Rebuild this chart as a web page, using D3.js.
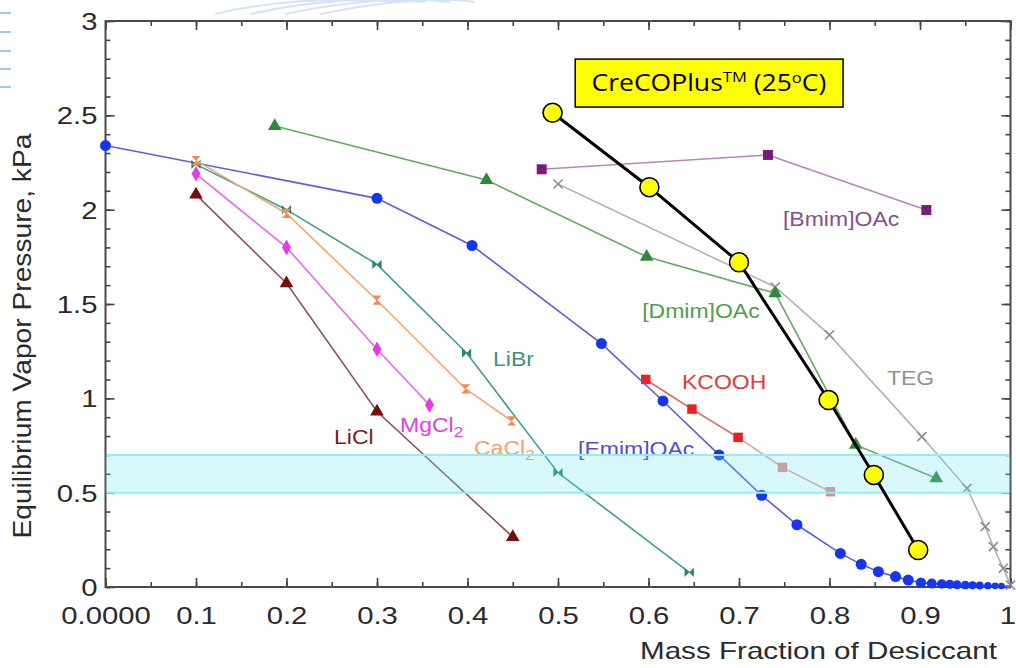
<!DOCTYPE html>
<html><head><meta charset="utf-8">
<script src="https://cdn.jsdelivr.net/npm/d3@7"></script>
<style>html,body{margin:0;padding:0;background:#fff;} svg{display:block;}</style>
</head><body>
<svg id="chart" width="1016" height="668"></svg>
<script>
// ---------------- DATA ----------------
const xTickValues = [0, 0.1, 0.2, 0.3, 0.4, 0.5, 0.6, 0.7, 0.8, 0.9, 1];
const xTickLabels = ["0.0000", "0.1", "0.2", "0.3", "0.4", "0.5", "0.6", "0.7", "0.8", "0.9", "1"];
const yTickValues = [0, 0.5, 1, 1.5, 2, 2.5, 3];
const yTickLabels = ["0", "0.5", "1", "1.5", "2", "2.5", "3"];

const liclX = [0.1, 0.2, 0.3, 0.45];
const liclY = [2.08, 1.61, 0.93, 0.265];
const mgcl2X = [0.1, 0.2, 0.3, 0.358];
const mgcl2Y = [2.19, 1.80, 1.26, 0.965];
const cacl2X = [0.1, 0.2, 0.3, 0.398, 0.449];
const cacl2Y = [2.26, 1.98, 1.52, 1.05, 0.88];
const libr2X = [0.1, 0.2, 0.3, 0.399, 0.50, 0.645];
const libr2Y = [2.24, 2.00, 1.71, 1.24, 0.606, 0.078];
const emimX = [0, 0.3, 0.405, 0.548, 0.616, 0.678, 0.725, 0.764, 0.812, 0.835, 0.854, 0.873, 0.887, 0.901,
               0.913, 0.924, 0.933, 0.941, 0.950, 0.958, 0.966, 0.975, 0.983, 0.990];
const emimY = [2.34, 2.06, 1.81, 1.29, 0.986, 0.70, 0.486, 0.33, 0.178, 0.12, 0.081, 0.055, 0.037, 0.023,
               0.018, 0.016, 0.014, 0.012, 0.010, 0.009, 0.008, 0.007, 0.006, 0.005];
const kcoohX = [0.597, 0.648, 0.699, 0.748, 0.801];
const kcoohY = [1.10, 0.943, 0.793, 0.634, 0.505];
const dmimX = [0.187, 0.421, 0.598, 0.740, 0.829, 0.918];
const dmimY = [2.443, 2.157, 1.75, 1.557, 0.753, 0.576];
const bmimX = [0.482, 0.732, 0.907];
const bmimY = [2.214, 2.29, 1.998];
const tegX = [0.50, 0.74, 0.80, 0.902, 0.952, 0.972, 0.981, 0.992, 1.0];
const tegY = [2.136, 1.59, 1.336, 0.797, 0.523, 0.32, 0.214, 0.099, 0.01];
const crecoX = [0.494, 0.601, 0.700, 0.799, 0.849, 0.898];
const crecoY = [2.514, 2.119, 1.721, 0.991, 0.594, 0.196];
const bandLow = 0.5, bandHigh = 0.7;

const xTitle = "Mass Fraction of Desiccant";
const yTitle = "Equilibrium Vapor Pressure, kPa";

// ---------------- LAYOUT ----------------
const svg = d3.select("#chart");
const L = 105.5, R = 1010.5, T = 21, B = 587;
const x = d3.scaleLinear().domain([0, 1]).range([L, R]);
const y = d3.scaleLinear().domain([0, 3]).range([B, T]);
const SX = 1.22; // horizontal stretch of the original picture's text

// top-left slide decoration
const deco = svg.append("g");
[13, 32, 51, 69, 87].forEach(v => deco.append("line").attr("x1", 0).attr("x2", 11).attr("y1", v).attr("y2", v)
  .attr("stroke", "#a9c6ee").attr("stroke-width", 2));
[0, 1, 2, 3].forEach(i => deco.append("path")
  .attr("d", `M${215 + i * 35},14 Q${300 + i * 40},-6 ${400 + i * 25},2`)
  .attr("fill", "none").attr("stroke", "#d6e3f6").attr("stroke-width", 2));

// axes / frame
const axG = svg.append("g").attr("font-family", "'Liberation Sans', Arial, sans-serif");
const minorX = d3.range(0, 1.0001, 0.05);
const minorY = d3.range(0, 3.0001, 0.1);
function tickAxis(gen, transform, size, vals) {
  const g = axG.append("g").attr("transform", transform)
    .call(gen.tickValues(vals).tickSizeInner(-size).tickSizeOuter(0).tickFormat(""));
  g.select(".domain").remove();
  g.selectAll(".tick line").attr("stroke", "#444").attr("stroke-width", 1.6);
  return g;
}
tickAxis(d3.axisBottom(x), `translate(0,${B})`, 5, minorX);
tickAxis(d3.axisTop(x), `translate(0,${T})`, 5, minorX);
tickAxis(d3.axisLeft(y), `translate(${L},0)`, 5, minorY);
tickAxis(d3.axisRight(y), `translate(${R},0)`, 5, minorY);
tickAxis(d3.axisBottom(x), `translate(0,${B})`, 9, xTickValues);
tickAxis(d3.axisTop(x), `translate(0,${T})`, 9, xTickValues);
tickAxis(d3.axisLeft(y), `translate(${L},0)`, 9, yTickValues);
tickAxis(d3.axisRight(y), `translate(${R},0)`, 9, yTickValues);

// tick labels via axis generators
const xLab = axG.append("g").attr("transform", `translate(0,${B})`)
  .call(d3.axisBottom(x).tickValues(xTickValues).tickSize(0).tickFormat((d, i) => xTickLabels[i]));
xLab.select(".domain").remove();
xLab.selectAll("text").attr("y", 0).attr("dy", null).attr("font-size", 24).attr("fill", "#2a2a2a")
  .attr("transform", `translate(0,37) scale(${SX},1)`)
  .filter((d, i) => i === xTickValues.length - 1)
  .attr("text-anchor", "end").attr("transform", `translate(5,37) scale(${SX},1)`);
const yLab = axG.append("g").attr("transform", `translate(${L},0)`)
  .call(d3.axisLeft(y).tickValues(yTickValues).tickSize(0).tickFormat((d, i) => yTickLabels[i]));
yLab.select(".domain").remove();
yLab.selectAll("text").attr("x", 0).attr("dy", "0.35em").attr("font-size", 24).attr("fill", "#2a2a2a")
  .attr("transform", `translate(-8,0) scale(${SX},1)`);

axG.append("rect").attr("x", L).attr("y", T).attr("width", R - L).attr("height", B - T)
  .attr("fill", "none").attr("stroke", "#4a4a4a").attr("stroke-width", 2);

// axis titles
axG.append("text").text(xTitle).attr("font-size", 24).attr("fill", "#2a2a2a")
  .attr("text-anchor", "start").attr("textLength", 357).attr("lengthAdjust", "spacingAndGlyphs")
  .attr("x", 640).attr("y", 659);
axG.append("text").text(yTitle).attr("font-size", 25).attr("fill", "#2a2a2a")
  .attr("text-anchor", "middle").attr("textLength", 405).attr("lengthAdjust", "spacingAndGlyphs")
  .attr("transform", `translate(31,${y(1.33)}) rotate(-90)`);

// ---------------- SERIES ----------------
function bowtie(vertical) {
  return { draw(ctx, size) { const r = Math.sqrt(size) / 2;
    if (!vertical) { ctx.moveTo(-r, -r); ctx.lineTo(r, r); ctx.lineTo(r, -r); ctx.lineTo(-r, r); }
    else { ctx.moveTo(-r, -r); ctx.lineTo(r, -r); ctx.lineTo(-r, r); ctx.lineTo(r, r); }
    ctx.closePath(); } };
}
const series = [
  { xs: tegX, ys: tegY, line: "#b3b3b3", mark: "#8e8e8e", sym: d3.symbolTimes, size: 55, stroke: true },
  { xs: bmimX, ys: bmimY, line: "#b985b9", mark: "#7d1a7d", sym: d3.symbolSquare, size: 100 },
  { xs: dmimX, ys: dmimY, line: "#62aa62", mark: "#2e8a3a", sym: d3.symbolTriangle, size: 80 },
  { xs: kcoohX, ys: kcoohY, line: "#e26060", mark: "#ea1f1f", sym: d3.symbolSquare, size: 90, fadeFrom: 3 },
  { xs: emimX, ys: emimY, line: "#5d5de0", mark: "#1535f2", sym: d3.symbolCircle, size: 95, tail: 0.9 },
  { xs: libr2X, ys: libr2Y, line: "#3f9d94", mark: "#2a8178", sym: bowtie(false), size: 85 },
  { xs: cacl2X, ys: cacl2Y, line: "#f2a775", mark: "#f08a52", sym: bowtie(true), size: 85 },
  { xs: mgcl2X, ys: mgcl2Y, line: "#e869e8", mark: "#e63ae6", sym: d3.symbolDiamond, size: 70 },
  { xs: liclX, ys: liclY, line: "#8d5656", mark: "#780c0c", sym: d3.symbolTriangle, size: 80 }
];
const lineGen = d3.line().x(d => x(d[0])).y(d => y(d[1]));
const sG = svg.append("g");
const rTail = d3.scaleLinear().domain([0.9, 1]).range([0.9, 0.3]).clamp(true);
series.forEach(s => {
  const pts = s.xs.map((v, i) => [v, s.ys[i]]);
  if (s.fadeFrom !== undefined) {
    sG.append("path").datum(pts.slice(0, s.fadeFrom)).attr("d", lineGen).attr("fill", "none")
      .attr("stroke", s.line).attr("stroke-width", 1.6);
    sG.append("path").datum(pts.slice(s.fadeFrom - 1)).attr("d", lineGen).attr("fill", "none")
      .attr("stroke", "#e6a0a0").attr("stroke-width", 1.6);
  } else {
    const lp = s.tail ? pts.concat([[1, pts[pts.length - 1][1]]]) : pts;
    sG.append("path").datum(lp).attr("d", lineGen).attr("fill", "none")
      .attr("stroke", s.line).attr("stroke-width", 1.6);
  }
  sG.selectAll(null).data(pts).join("path")
    .attr("transform", d => `translate(${x(d[0])},${y(d[1])})`)
    .attr("d", d => d3.symbol().type(s.sym).size(s.tail && d[0] > s.tail ? s.size * rTail(d[0]) : s.size)())
    .attr("fill", (d, i) => s.stroke ? "none" : (s.fadeFrom !== undefined && i >= s.fadeFrom ? "#e48c8c" : s.mark))
    .attr("stroke", s.stroke ? s.mark : "none").attr("stroke-width", s.stroke ? 1.6 : 0);
});

// series labels (anchored in data units)
const labels = [
  { t: "LiCl", x: 0.2525, y: 0.758, c: "#7a1c1c" },
  { t: "MgCl", sub: "2", x: 0.3254, y: 0.822, c: "#e23ee2" },
  { t: "CaCl", sub: "2", x: 0.4072, y: 0.700, c: "#f2a070" },
  { t: "LiBr", x: 0.4282, y: 1.171, c: "#3d8e8a" },
  { t: "[Emim]OAc", x: 0.5221, y: 0.694, c: "#4c4ce2" },
  { t: "KCOOH", x: 0.6370, y: 1.049, c: "#e23a3a" },
  { t: "[Dmim]OAc", x: 0.5930, y: 1.426, c: "#4e9e4e" },
  { t: "[Bmim]OAc", x: 0.7486, y: 1.913, c: "#8c4c8c" },
  { t: "TEG", x: 0.8635, y: 1.071, c: "#939393" }
];
const lG = svg.append("g").attr("font-family", "'Liberation Sans', Arial, sans-serif").attr("font-size", 20);
labels.forEach(l => {
  const t = lG.append("text").attr("fill", l.c)
    .attr("transform", `translate(${x(l.x)},${y(l.y)}) scale(1.15,1)`);
  t.append("tspan").text(l.t);
  if (l.sub) t.append("tspan").text(l.sub).attr("font-size", 15).attr("dy", 5);
});

// cyan band overlay
svg.append("rect").attr("x", x(0)).attr("width", x(1) - x(0))
  .attr("y", y(bandHigh)).attr("height", y(bandLow) - y(bandHigh))
  .attr("fill", "rgba(110,228,238,0.26)");
[bandLow, bandHigh].forEach(v => svg.append("line").attr("x1", x(0) + 1).attr("x2", x(1) - 1)
  .attr("y1", y(v)).attr("y2", y(v)).attr("stroke", "#93eef3").attr("stroke-width", 2));

// CreCOPlus series
const cPts = crecoX.map((v, i) => [v, crecoY[i]]);
svg.append("path").datum(cPts).attr("d", lineGen).attr("fill", "none")
  .attr("stroke", "#000").attr("stroke-width", 3);
svg.selectAll(null).data(cPts).join("circle")
  .attr("cx", d => x(d[0])).attr("cy", d => y(d[1])).attr("r", 9.5)
  .attr("fill", "#ffff00").attr("stroke", "#000").attr("stroke-width", 1.6);

// legend box
const bx0 = x(0.519), bx1 = x(0.815), by0 = y(2.798), by1 = y(2.544);
svg.append("rect").attr("x", bx0).attr("y", by0).attr("width", bx1 - bx0).attr("height", by1 - by0)
  .attr("fill", "#ffff00").attr("stroke", "#000").attr("stroke-width", 1.5);
const lt = svg.append("text").attr("font-family", "'Open Sans', 'Noto Sans', sans-serif")
  .attr("font-size", 24).attr("fill", "#000");
lt.append("tspan").text("CreCOPlus");
lt.append("tspan").text("TM").attr("font-size", 15).attr("dy", -9);
lt.append("tspan").text(" (25").attr("dy", 9);
lt.append("tspan").text("o").attr("font-size", 15).attr("dy", -8);
lt.append("tspan").text("C)").attr("dy", 8);
const w = lt.node().getBBox().width;
lt.attr("transform", `translate(${x(0.537)},${y(2.629)}) scale(${235 / w},1)`);
</script>
</body></html>
